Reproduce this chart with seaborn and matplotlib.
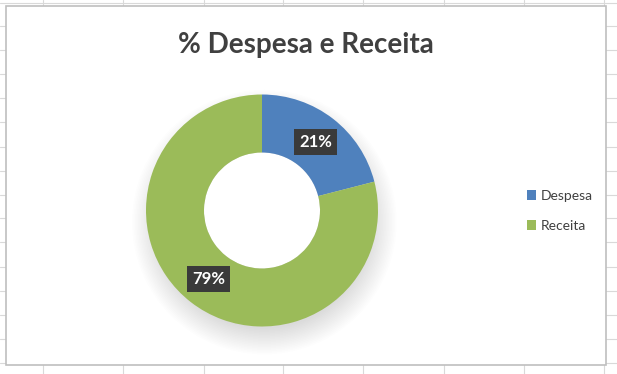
import matplotlib
matplotlib.use("Agg")
import matplotlib.pyplot as plt
import seaborn as sns
from matplotlib.patches import Rectangle, Circle, Patch
from matplotlib.lines import Line2D

# Data
categorias = ["Despesa", "Receita"]
valores = [21, 79]
cores = ["#4F81BD", "#9BBB59"]

sns.set_theme(style="white")
plt.rcParams["font.family"] = ["Lato", "DejaVu Sans"]
paleta = sns.color_palette(cores)

W, H = 617, 374
fig = plt.figure(figsize=(W / 100, H / 100), dpi=100)
fig.patch.set_facecolor("white")

# spreadsheet grid behind the chart
for x in [43, 123, 204, 283, 363, 444, 524, 604]:
    fig.add_artist(Line2D([x / W, x / W], [0, 1], transform=fig.transFigure,
                          color="#d9d9d9", lw=0.8, zorder=-3))
for y in [3, 26, 50, 74, 98, 122, 147, 171, 195, 218, 242, 267, 291, 315, 339, 363]:
    fig.add_artist(Line2D([0, 1], [1 - y / H, 1 - y / H], transform=fig.transFigure,
                          color="#d9d9d9", lw=0.8, zorder=-3))

# chart area
fig.add_artist(Rectangle((6 / W, 1 - 365 / H), 600 / W, 359 / H, transform=fig.transFigure,
                         facecolor="white", edgecolor="#bfbfbf", lw=1.2, zorder=-2))

cx, cy, r = 262, 210.5, 116
half = r * 1.25
ax = fig.add_axes([(cx - half) / W, (H - cy - half) / H, 2 * half / W, 2 * half / H])
ax.patch.set_visible(False)

# soft shadow, mostly below the ring
for i in range(18):
    ax.add_patch(Circle((0.02, -0.1), 0.92 + 0.013 * i, facecolor="#000000",
                        alpha=0.009, edgecolor="none", zorder=0))
ax.add_patch(Circle((0, 0), 0.5, facecolor="white", edgecolor="none", zorder=0.5))

wedges, textos, pcts = ax.pie(valores, colors=paleta, startangle=90, counterclock=False,
                              radius=1, autopct="%d%%", pctdistance=0.75,
                              wedgeprops=dict(width=0.5, edgecolor="none"))
for w in wedges:
    w.set_zorder(1)
for t in pcts:
    t.set_color("white")
    t.set_fontsize(12)
    t.set_fontweight("bold")
    t.set_zorder(3)
    t.set_bbox(dict(boxstyle="square,pad=0.3", facecolor="#3a3a3a", edgecolor="none"))

ax.set_xlim(-1.25, 1.25)
ax.set_ylim(-1.25, 1.25)
ax.set_aspect("equal")

fig.text(306 / W, 1 - 53 / H, "% Despesa e Receita", ha="center", va="baseline",
         fontsize=20, fontweight="bold", color="#404040")

handles = [Patch(facecolor=c, edgecolor="none") for c in paleta]
fig.legend(handles, categorias, loc="center left", bbox_to_anchor=(514 / W, 1 - 211 / H),
           frameon=False, fontsize=10, handlelength=0.7, handleheight=0.7,
           handletextpad=0.3, labelspacing=1.3, labelcolor="#404040")

fig.savefig("out.png", dpi=100)
